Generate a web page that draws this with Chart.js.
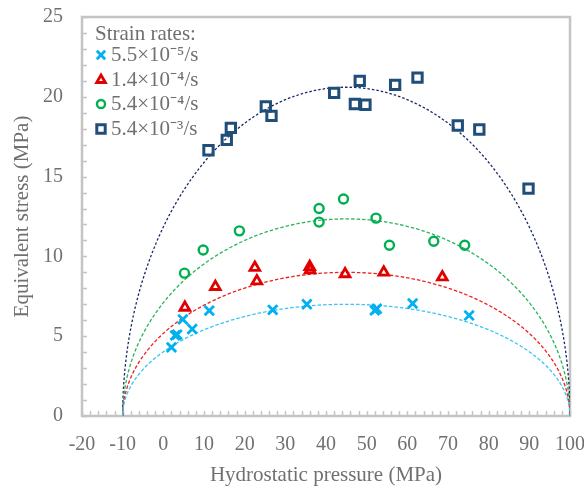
<html>
<head>
<meta charset="utf-8">
<script src="https://cdn.jsdelivr.net/npm/chart.js@4.4.1/dist/chart.umd.min.js"></script>
<style>
  body { margin: 0; background: #fff; }
  #wrap { width: 584px; height: 488px; }
</style>
</head>
<body>
<div id="wrap"><canvas id="yieldChart"></canvas></div>

<script type="text/javascript">
    // measured points, [hydrostatic pressure, equivalent stress] in MPa
    var rate1Points = [[2.0, 4.3], [2.9, 5.05], [3.4, 5.1], [4.8, 6.05], [7.1, 5.45], [11.3, 6.6],
                       [26.9, 6.65], [35.3, 7.0], [52.0, 6.62], [52.5, 6.72], [61.3, 7.05], [75.2, 6.3]];
    var rate2Points = [[5.3, 6.8], [12.8, 8.1], [22.5, 9.3], [23.0, 8.45], [36.0, 9.35], [36.1, 9.15],
                       [44.7, 8.9], [54.2, 9.0], [68.6, 8.7]];
    var rate3Points = [[5.2, 8.95], [9.8, 10.4], [18.7, 11.6], [38.3, 13.0], [38.3, 12.15], [44.3, 13.6],
                       [52.3, 12.4], [55.6, 10.7], [66.5, 10.95], [74.1, 10.7]];
    var rate4Points = [[11.1, 16.65], [15.6, 17.3], [16.6, 18.05], [25.2, 19.4], [26.6, 18.8], [42.0, 20.25],
                       [48.3, 21.0], [47.1, 19.55], [49.7, 19.5], [57.0, 20.75], [62.5, 21.2], [72.4, 18.2],
                       [77.7, 17.95], [89.8, 14.25]];

    var rateLabels = ['5.5×10⁻⁵/s', '1.4×10⁻⁴/s', '5.4×10⁻⁴/s', '5.4×10⁻³/s'];

    // elliptical fits: zero stress at both pressure limits, peak stress per rate
    var fitLimits = [-10, 100];
    var fitPeaks = [7.0, 9.0, 12.35, 20.6];

    var markerStyles = ['crossRot', 'triangle', 'circle', 'rect'];
    var markerColors = ['#00b0f0', '#e00000', '#00b050', '#1f4e79'];
    var fitColors = ['#3cc4f2', '#ee2020', '#2bb45a', '#1b2a66'];

    var textColor = '#707070';
    var frameColor = '#c4c4c4';
    var serif = '"Liberation Serif", "Times New Roman", serif';

    function toXY(list) {
        return list.map(function (p) { return { x: p[0], y: p[1] }; });
    }

    function fitCurve(peak) {
        var c = (fitLimits[0] + fitLimits[1]) / 2;
        var a = (fitLimits[1] - fitLimits[0]) / 2;
        var pts = [];
        for (var i = 0; i <= 180; i++) {
            var t = Math.PI * i / 180;
            pts.push({ x: c - a * Math.cos(t), y: peak * Math.sin(t) });
        }
        return pts;
    }

    var markerSizes = [6.6, 5.6, 4.5, 6.6];
    var markerWidths = [2.8, 2.8, 2.4, 3];
    var allPoints = [rate1Points, rate2Points, rate3Points, rate4Points];

    var datasets = [];
    for (let i = 0; i < 4; i++) {
        datasets.push({
            label: rateLabels[i],
            data: toXY(allPoints[i]),
            pointStyle: markerStyles[i],
            pointRadius: markerSizes[i],
            pointBorderWidth: markerWidths[i],
            borderColor: markerColors[i],
            backgroundColor: 'rgba(255,255,255,0)',
            showLine: false,
            order: 1
        });
    }
    for (let i = 0; i < 4; i++) {
        datasets.push({
            label: 'fit ' + rateLabels[i],
            data: fitCurve(fitPeaks[i]),
            showLine: true,
            pointRadius: 0,
            borderColor: fitColors[i],
            borderWidth: 1.3,
            borderDash: i == 3 ? [2.5, 2] : [3.5, 2],
            fill: false,
            tension: 0,
            order: 2
        });
    }

    // frame round the plot area with small inward ticks
    const framePlugin = {
        id: 'frame',
        beforeDatasetsDraw(chart) {
            const ctx = chart.ctx;
            const a = chart.chartArea;
            const xs = chart.scales.x, ys = chart.scales.y;
            ctx.save();
            ctx.strokeStyle = frameColor;
            ctx.lineWidth = 2.5;
            ctx.strokeRect(a.left, a.top, a.right - a.left, a.bottom - a.top);
            ctx.lineWidth = 1.5;
            ctx.beginPath();
            for (let v = xs.min; v <= xs.max; v += 2) {
                const px = Math.round(xs.getPixelForValue(v)) + 0.5;
                ctx.moveTo(px, a.bottom);
                ctx.lineTo(px, a.bottom - 5);
            }
            for (let v = ys.min; v <= ys.max; v += 1) {
                const py = Math.round(ys.getPixelForValue(v)) + 0.5;
                ctx.moveTo(a.left, py);
                ctx.lineTo(a.left + 5, py);
            }
            ctx.stroke();
            ctx.restore();
        }
    };

    function drawMarker(ctx, style, x, y, r) {
        ctx.beginPath();
        if (style == 'crossRot') {
            const d = r * Math.SQRT1_2;
            ctx.moveTo(x - d, y - d); ctx.lineTo(x + d, y + d);
            ctx.moveTo(x - d, y + d); ctx.lineTo(x + d, y - d);
        } else if (style == 'triangle') {
            const h = r * Math.sin(Math.PI / 3);
            ctx.moveTo(x, y - r);
            ctx.lineTo(x + h, y + r / 2);
            ctx.lineTo(x - h, y + r / 2);
            ctx.closePath();
        } else if (style == 'circle') {
            ctx.arc(x, y, r, 0, Math.PI * 2);
        } else {
            const s = r * Math.SQRT1_2;
            ctx.rect(x - s, y - s, 2 * s, 2 * s);
        }
        ctx.stroke();
    }

    // legend box in the upper left corner of the plot
    const legendPlugin = {
        id: 'rateLegend',
        afterDraw(chart) {
            const ctx = chart.ctx;
            ctx.save();
            ctx.font = '21px ' + serif;
            ctx.fillStyle = textColor;
            ctx.textBaseline = 'middle';
            ctx.fillText('Strain rates:', 95, 34);
            const rows = [55, 80, 104, 129];
            for (let i = 0; i < 4; i++) {
                ctx.strokeStyle = markerColors[i];
                ctx.lineWidth = markerWidths[i];
                drawMarker(ctx, markerStyles[i], 101, rows[i], markerSizes[i] * 0.9);
                ctx.fillText(rateLabels[i], 111, rows[i]);
            }
            ctx.restore();
        }
    };

    const chartEl = document.getElementById('yieldChart');
    new Chart(chartEl, {
        type: 'scatter',
        data: { datasets: datasets },
        plugins: [framePlugin, legendPlugin],
        options: {
            responsive: true,
            maintainAspectRatio: false,
            animation: false,
            layout: { padding: { top: 17, right: 14, left: 0, bottom: 0 } },
            plugins: {
                legend: { display: false },
                tooltip: { enabled: false }
            },
            scales: {
                x: {
                    type: 'linear',
                    min: -20,
                    max: 100,
                    afterFit: function (s) {
                        s.height = 72;
                        s.paddingLeft = 0;
                        s.paddingRight = 0;
                    },
                    ticks: { stepSize: 10, color: textColor, font: { family: serif, size: 20 }, padding: 17, maxRotation: 0 },
                    grid: { display: false, drawTicks: false },
                    border: { display: false },
                    title: {
                        display: true,
                        text: 'Hydrostatic pressure (MPa)',
                        color: textColor,
                        font: { family: serif, size: 21 },
                        padding: { top: 0, bottom: 0 }
                    }
                },
                y: {
                    type: 'linear',
                    min: 0,
                    max: 25,
                    afterFit: function (s) {
                        s.width = 82;
                        s.paddingTop = 0;
                        s.paddingBottom = 0;
                    },
                    ticks: { stepSize: 5, color: textColor, font: { family: serif, size: 20 }, padding: 19 },
                    grid: { display: false, drawTicks: false },
                    border: { display: false },
                    title: {
                        display: true,
                        text: 'Equivalent stress (MPa)',
                        color: textColor,
                        font: { family: serif, size: 21 },
                        padding: { top: 10, bottom: 0 }
                    }
                }
            }
        }
    });
</script>
</body>
</html>
